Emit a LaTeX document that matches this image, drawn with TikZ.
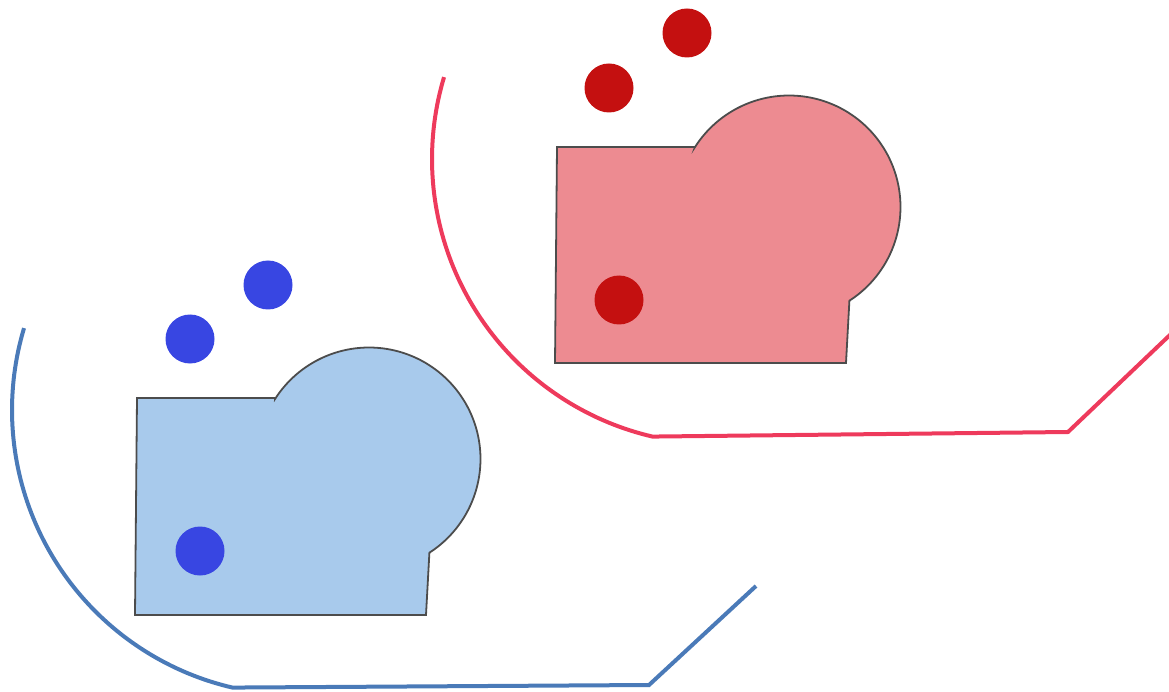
\documentclass[tikz,border=0pt]{standalone}
\begin{document}
\begin{tikzpicture}[x=1pt,y=-1pt,
  shapeline/.style={draw=black!70,line width=1.8pt,line join=miter},
  trail/.style={line width=4pt,line join=miter},
  dot/.style={circle,inner sep=0pt,minimum size=49pt}]
\definecolor{redfill}{HTML}{ED8B91}
\definecolor{bluefill}{HTML}{A8CAEC}
\definecolor{reddot}{HTML}{C41010}
\definecolor{bluedot}{HTML}{3846E2}
\definecolor{redline}{HTML}{EE3A5C}
\definecolor{blueline}{HTML}{4A7AB8}
\useasboundingbox (0,0) rectangle (1169,692);
\clip (0,0) rectangle (1169,692);
% red group
\draw[trail,redline] plot[domain=196.7:103.1,samples=80] ({717+285*cos(\x)},{159+285*sin(\x)})
  -- (1068,432) -- (1172,333);
\filldraw[shapeline,fill=redfill] (557,147) -- (695,147)
  -- plot[domain=212.5:417.2,samples=90] ({789+111.5*cos(\x)},{207+111.5*sin(\x)})
  -- (846,363) -- (555,363) -- cycle;
\node[dot,fill=reddot] (r1) at (687,33) {};
\node[dot,fill=reddot] (r2) at (609,88) {};
\node[dot,fill=reddot] (r3) at (619,300) {};
% blue group
\draw[trail,blueline] plot[domain=196.7:103.1,samples=80] ({297+285*cos(\x)},{410+285*sin(\x)})
  -- (649,685) -- (756,586);
\filldraw[shapeline,fill=bluefill] (137,398) -- (275,398)
  -- plot[domain=212.5:417.2,samples=90] ({369+111.5*cos(\x)},{459+111.5*sin(\x)})
  -- (426,615) -- (135,615) -- cycle;
\node[dot,fill=bluedot] (b1) at (268,285) {};
\node[dot,fill=bluedot] (b2) at (190,339) {};
\node[dot,fill=bluedot] (b3) at (200,551) {};
\end{tikzpicture}
\end{document}
